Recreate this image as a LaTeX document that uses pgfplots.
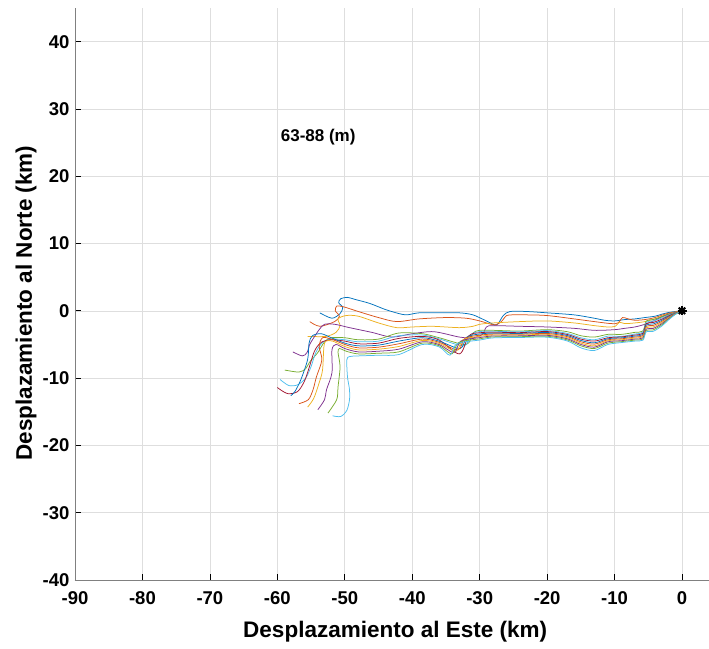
\documentclass[border=0pt]{standalone}
\usepackage{fontspec}
\setmainfont{Liberation Sans}
\usepackage{pgfplots}
\pgfplotsset{compat=1.18}

\definecolor{c1}{RGB}{0,114,189}
\definecolor{c2}{RGB}{217,83,25}
\definecolor{c3}{RGB}{237,177,32}
\definecolor{c4}{RGB}{126,47,142}
\definecolor{c5}{RGB}{119,172,48}
\definecolor{c6}{RGB}{77,190,238}
\definecolor{c7}{RGB}{162,20,47}
\definecolor{gridc}{RGB}{222,222,222}

\pgfplotsset{traj/.style={smooth, tension=0.5, line width=0.75pt, mark=none}}

\begin{document}
\begin{tikzpicture}
\begin{axis}[
  name=ax,
  scale only axis,
  width=634pt, height=572pt,
  xmin=-90, xmax=4, ymin=-40, ymax=45,
  xtick={-90,-80,...,0}, ytick={-40,-30,...,40},
  axis x line=bottom, axis y line=left,
  axis line style={-, black!50, line width=0.8pt},
  tick align=inside, major tick length=6pt,
  tick style={black, line width=0.7pt},
  grid=major, grid style={color=gridc, line width=0.6pt},
  /pgf/number format/assume math mode=true,
  ticklabel style={font=\bfseries\fontsize{18.5}{21}\selectfont},
  xticklabel style={yshift=-8pt},
  yticklabel style={xshift=-2pt},
  xlabel={Desplazamiento al Este (km)},
  ylabel={Desplazamiento al Norte (km)},
  label style={font=\bfseries\fontsize{22.5}{26}\selectfont},
  xlabel style={at={(axis description cs:0.505,-0.0909)}, anchor=center},
  ylabel style={at={(axis description cs:-0.0773,0.484)}, anchor=center},
]

% first group of trajectories
\addplot[c1, traj] coordinates {(0,0) (-1,-0.1) (-2,-0.25) (-3,-0.5) (-4,-0.8) (-5.5,-1.0) (-7,-1.2) (-8.5,-1.3) (-10,-1.5) (-11.5,-1.4) (-13,-1.1) (-16,-0.6) (-20,-0.3) (-23,-0.1) (-25.5,-0.1) (-26.5,-0.7) (-27.5,-2.1) (-29,-1.5) (-31,-0.6) (-33,-0.3) (-36,-0.3) (-39,-0.3) (-40.8,-0.6) (-42,-0.4) (-44,0.2) (-46.3,1.1) (-48.5,1.7) (-49.6,2.0) (-50.6,1.8) (-50.9,1.2) (-50.3,0.5) (-50.7,-0.4) (-51.9,-1.1) (-53.7,-0.3)};
\addplot[c2, traj] coordinates {(0,0) (-1,-0.15) (-2,-0.35) (-3,-0.65) (-4,-1.0) (-5.5,-1.3) (-7,-1.4) (-8,-1.2) (-8.8,-1.0) (-9.5,-1.8) (-10.5,-1.9) (-13,-1.6) (-16,-1.2) (-20,-0.7) (-23,-0.6) (-25,-0.6) (-26,-0.7) (-26.8,-1.6) (-27.8,-2.1) (-30,-1.5) (-32,-1.1) (-35,-1.0) (-39,-1.2) (-42.3,-1.6) (-45,-1.0) (-48,-0.1) (-50.2,0.6) (-51.2,0.7) (-51.4,0.0) (-50.8,-0.8) (-51.5,-1.6) (-53.7,-2.3) (-55.2,-1.6)};
\addplot[c3, traj] coordinates {(0,0) (-1,-0.2) (-2,-0.45) (-3,-0.8) (-4,-1.2) (-5.5,-1.6) (-7,-1.8) (-8.5,-1.9) (-9.3,-1.7) (-9.9,-2.3) (-11,-2.4) (-13,-2.2) (-16,-1.8) (-20,-1.5) (-24,-1.6) (-28,-1.8) (-30,-2.0) (-31,-2.3) (-33,-2.5) (-37,-2.3) (-40,-2.4) (-42.3,-2.5) (-45,-1.8) (-48,-0.8) (-49.8,-0.7) (-51,-1.2) (-50.7,-2.2) (-51.3,-3.2) (-52.8,-3.8) (-55.5,-3.8)};
\addplot[c4, traj] coordinates {(0,0) (-1,-0.25) (-2,-0.5) (-3,-0.9) (-4,-1.4) (-5.5,-2.0) (-7,-2.4) (-8.5,-2.6) (-10,-2.8) (-13,-2.9) (-16,-2.6) (-20,-2.4) (-24,-2.3) (-28,-2.2) (-29,-2.4) (-29.6,-3.5) (-31,-4.0) (-33,-3.9) (-36.8,-3.1) (-40,-3.4) (-43,-3.9) (-46,-3.2) (-49.3,-2.5) (-51.5,-2.0) (-53,-2.0) (-53.8,-2.8) (-54.6,-4.0) (-55.2,-5.0) (-55.6,-6.2) (-56.3,-6.7) (-57.7,-6.1)};
\addplot[c5, traj] coordinates {(0,0) (-1,-0.3) (-2,-0.55) (-3,-0.9) (-4.3,-1.3) (-5.3,-1.5) (-5.8,-3.0) (-7,-3.2) (-9,-3.5) (-11,-3.5) (-13,-3.9) (-15,-3.7) (-17,-3.1) (-20,-2.8) (-24,-3.0) (-28,-2.9) (-30,-2.9) (-31,-3.3) (-32,-5.0) (-36,-4.0) (-38.5,-3.4) (-42,-3.3) (-45,-4.2) (-48,-4.3) (-50,-4.0) (-52,-4.0) (-53,-4.6) (-54,-6.2) (-55.2,-7.6) (-55.8,-8.6) (-56.8,-9.1) (-58.9,-8.8)};
\addplot[c6, traj] coordinates {(0,0) (-1,-0.33) (-2,-0.65) (-3,-1.07) (-4.3,-1.52) (-5.3,-1.7) (-5.8,-3.17) (-7,-3.45) (-9,-3.8) (-11,-3.76) (-13,-4.3) (-15,-4.0) (-17,-3.36) (-20,-2.94) (-24,-3.12) (-28,-3.04) (-30,-3.08) (-31.3,-3.5) (-32.3,-5.2) (-36,-4.17) (-38.5,-3.6) (-42,-3.7) (-45,-4.5) (-48,-4.6) (-50,-4.3) (-52,-4.2) (-53.3,-4.7) (-54.3,-6.2) (-55,-8.3) (-55.8,-10.0) (-57,-11.0) (-58.3,-11.1) (-59.6,-10.2)};
\addplot[c7, traj] coordinates {(0,0) (-1,-0.36) (-2,-0.75) (-3,-1.24) (-4.3,-1.74) (-5.3,-1.9) (-5.8,-3.34) (-7,-3.6) (-9,-3.88) (-11,-4.0) (-13,-4.5) (-15,-4.2) (-17,-3.52) (-20,-3.08) (-24,-3.24) (-28,-3.18) (-30,-3.26) (-31.6,-3.7) (-33,-6.4) (-36,-4.34) (-38.5,-3.8) (-42,-4.1) (-45,-4.8) (-48,-4.9) (-50,-4.5) (-52,-4.3) (-53.5,-4.7) (-54.5,-6.0) (-55.3,-8.5) (-56,-10.5) (-57,-12.0) (-58.5,-12.3) (-60,-11.4)};

% second group of trajectories
\addplot[c1, traj] coordinates {(0,0) (-1,-0.39) (-2,-0.85) (-3,-1.41) (-4.3,-1.96) (-5.3,-2.1) (-5.8,-3.51) (-7,-3.75) (-9,-4.02) (-11,-4.15) (-13,-4.75) (-15,-4.4) (-17,-3.68) (-20,-3.22) (-24,-3.36) (-28,-3.32) (-30,-3.44) (-31.9,-3.9) (-32.9,-5.6) (-36,-4.51) (-38.5,-4.0) (-42,-4.5) (-45,-5.1) (-48,-5.2) (-50,-4.8) (-52,-4.0) (-53.5,-3.4) (-54.8,-3.7) (-55.3,-4.8) (-55.5,-7.2) (-56.5,-10.2) (-57.4,-12.0) (-58,-12.6)};
\addplot[c2, traj] coordinates {(0,0) (-1,-0.42) (-2,-0.95) (-3,-1.58) (-4.3,-2.18) (-5.3,-2.3) (-5.8,-3.68) (-7,-3.9) (-9,-4.16) (-11,-4.3) (-13,-4.95) (-15,-4.6) (-17,-3.84) (-20,-3.36) (-24,-3.48) (-28,-3.46) (-30,-3.62) (-32.2,-4.1) (-33.2,-5.8) (-36,-4.68) (-38.5,-4.2) (-42,-4.9) (-45,-5.4) (-48,-5.5) (-50,-5.0) (-52,-4.2) (-53.3,-4.0) (-53.8,-5.3) (-53.4,-7.3) (-54.2,-9.8) (-54.7,-11.7) (-55.4,-13.2) (-56.8,-13.8)};
\addplot[c3, traj] coordinates {(0,0) (-1,-0.45) (-2,-1.05) (-3,-1.75) (-4.3,-2.4) (-5.3,-2.5) (-5.8,-3.85) (-7,-4.05) (-9,-4.3) (-11,-4.45) (-13,-5.2) (-15,-4.8) (-17,-4.0) (-20,-3.5) (-24,-3.6) (-28,-3.6) (-30,-3.8) (-32.5,-4.3) (-33.5,-6.0) (-36,-4.85) (-38.5,-4.4) (-42,-5.3) (-45,-5.7) (-48,-5.8) (-50,-5.3) (-51.8,-4.5) (-52.8,-4.5) (-53.1,-5.4) (-53.3,-8.8) (-53.8,-10.7) (-54.6,-13.0) (-55.5,-14.3)};
\addplot[c4, traj] coordinates {(0,0) (-1,-0.48) (-2,-1.15) (-3,-1.92) (-4.3,-2.62) (-5.3,-2.7) (-5.8,-4.02) (-7,-4.2) (-9,-4.44) (-11,-4.6) (-13,-5.4) (-15,-5.0) (-17,-4.16) (-20,-3.64) (-24,-3.72) (-28,-3.74) (-30,-3.98) (-32.8,-4.5) (-33.8,-6.2) (-36,-5.02) (-38.5,-4.6) (-42,-5.7) (-45,-6.0) (-48,-6.1) (-50,-5.6) (-51.3,-5.0) (-51.9,-5.8) (-51.9,-9.2) (-52.7,-11.7) (-53,-13.2) (-54,-14.7)};
\addplot[c5, traj] coordinates {(0,0) (-1,-0.51) (-2,-1.25) (-3,-2.09) (-4.3,-2.84) (-5.3,-2.9) (-5.8,-4.19) (-7,-4.35) (-9,-4.58) (-11,-4.8) (-13,-5.6) (-15,-5.2) (-17,-4.32) (-20,-3.78) (-24,-3.84) (-28,-3.88) (-30,-4.16) (-33.1,-4.7) (-34.1,-6.4) (-36,-5.19) (-38.5,-4.8) (-42,-6.1) (-45,-6.3) (-48,-6.4) (-49.8,-6.0) (-50.8,-5.6) (-51,-6.2) (-50.7,-8.3) (-51,-11.3) (-51.2,-13.2) (-52.5,-15.2)};
\addplot[c6, traj] coordinates {(0,0) (-1,-0.54) (-2,-1.35) (-3,-2.26) (-4.3,-3.06) (-5.3,-3.1) (-5.8,-4.36) (-7,-4.5) (-9,-4.72) (-11,-5.0) (-13,-5.9) (-15,-5.5) (-17,-4.48) (-20,-3.92) (-24,-3.96) (-28,-4.02) (-30,-4.34) (-33.4,-4.9) (-34.4,-6.6) (-36,-5.36) (-38.5,-5.0) (-42,-6.5) (-45,-6.6) (-48,-6.7) (-49.3,-6.8) (-49.7,-7.3) (-49.6,-9.8) (-49.3,-11.7) (-49.3,-13.2) (-49.7,-14.8) (-50.6,-15.7) (-51.8,-15.6)};

% common starting point, drawn as an eight-armed star
\addplot[only marks, mark=+, mark size=4.5pt, line width=2.2pt, black] coordinates {(0,0)};
\addplot[only marks, mark=x, mark size=4.5pt, line width=2.2pt, black] coordinates {(0,0)};

\node[anchor=west, font=\bfseries\fontsize{17}{20}\selectfont] at (axis cs:-60,25.8) {63-88 (m)};
\end{axis}
\pgfresetboundingbox
\path (ax.south west) ++(-75pt,-68pt) rectangle ++(709pt,648pt);
\end{tikzpicture}
\end{document}
